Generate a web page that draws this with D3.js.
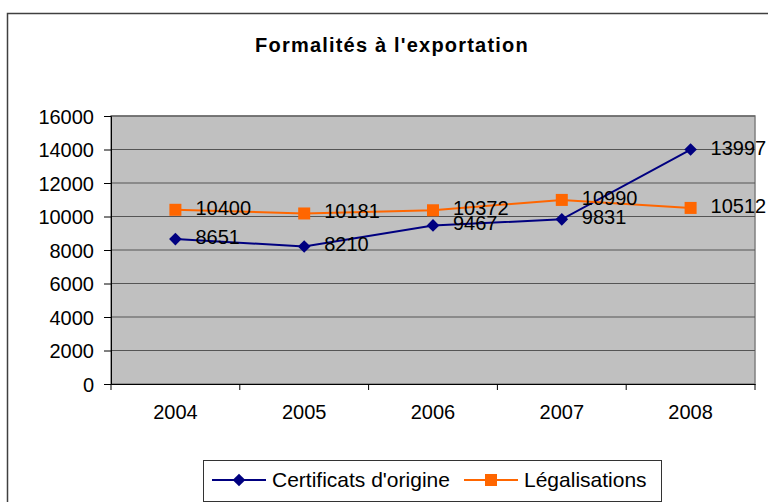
<!DOCTYPE html>
<html>
<head>
<meta charset="utf-8">
<script src="https://cdn.jsdelivr.net/npm/d3@7"></script>
<style>
  body { margin: 0; background: #fff; }
  text { font-family: "Liberation Sans", Arial, sans-serif; fill: #000; }
</style>
</head>
<body>
<script>
const width = 768
const height = 502

const years = ['2004', '2005', '2006', '2007', '2008']
const certificats = [8651, 8210, 9467, 9831, 13997]
const legalisations = [10400, 10181, 10372, 10990, 10512]
const yTicks = [0, 2000, 4000, 6000, 8000, 10000, 12000, 14000, 16000]

const series = [
    {name: "Certificats d'origine", values: certificats, color: '#000080', shape: 'diamond'},
    {name: 'Légalisations', values: legalisations, color: '#ff6600', shape: 'square'}
]

const plot = {left: 111, right: 755, top: 116, bottom: 384}

const svg = d3.select('body').append('svg')
    .attr('width', width)
    .attr('height', height)

// outer chart frame
svg.append('rect')
    .attr('x', 7.5).attr('y', 13.5)
    .attr('width', 780).attr('height', 520)
    .style('fill', '#fff')
    .style('stroke', '#404040')
    .style('stroke-width', 1.5)

svg.append('text')
    .attr('x', 392).attr('y', 52)
    .attr('text-anchor', 'middle')
    .style('font-size', '20px')
    .style('font-weight', 'bold')
    .style('letter-spacing', '1.2px')
    .text("Formalités à l'exportation")

const x = d3.scaleBand().domain(years).range([plot.left, plot.right])
const y = d3.scaleLinear().domain([0, 16000]).range([plot.bottom, plot.top])

svg.append('rect')
    .attr('x', plot.left).attr('y', plot.top)
    .attr('width', plot.right - plot.left).attr('height', plot.bottom - plot.top)
    .style('fill', '#c0c0c0')
    .style('stroke', '#808080')
    .style('stroke-width', 1.5)

svg.append('g').selectAll('line')
    .data(yTicks.slice(1))
    .join('line')
    .attr('x1', plot.left).attr('x2', plot.right)
    .attr('y1', d => y(d)).attr('y2', d => y(d))
    .style('stroke', '#555')
    .style('stroke-width', 1.2)

// y axis
const yAxis = svg.append('g')
    .attr('transform', `translate(${plot.left},0)`)
    .call(d3.axisLeft(y).tickValues(yTicks).tickSize(7).tickPadding(10).tickFormat(d3.format('d')))
yAxis.select('.domain').style('stroke', '#000')
yAxis.selectAll('.tick line').style('stroke', '#000')
yAxis.selectAll('text').style('font-size', '20px').attr('dy', '0.35em')

// x axis
const xAxis = svg.append('g')
    .attr('transform', `translate(0,${plot.bottom})`)
    .call(d3.axisBottom(x).tickSize(0).tickPadding(21))
xAxis.select('.domain').style('stroke', '#000')
xAxis.selectAll('text').style('font-size', '20px')
svg.append('g').selectAll('line')
    .data(d3.range(years.length + 1))
    .join('line')
    .attr('x1', i => plot.left + i * x.step()).attr('x2', i => plot.left + i * x.step())
    .attr('y1', plot.bottom).attr('y2', plot.bottom + 6)
    .style('stroke', '#000')

const cx = d => x(d) + x.bandwidth() / 2
const line = d3.line().x((d, i) => cx(years[i])).y(d => y(d))

function marker(sel, s) {
    if (s.shape === 'diamond') {
        sel.append('path')
            .attr('d', d3.symbol(d3.symbolSquare, 80)())
            .attr('transform', 'rotate(45)')
            .style('fill', s.color)
    } else {
        sel.append('rect')
            .attr('x', -6).attr('y', -6).attr('width', 12).attr('height', 12)
            .style('fill', s.color)
    }
}

series.forEach(s => {
    svg.append('path')
        .datum(s.values)
        .attr('d', line)
        .style('fill', 'none')
        .style('stroke', s.color)
        .style('stroke-width', 2)
    s.values.forEach((v, i) => {
        const g = svg.append('g').attr('transform', `translate(${cx(years[i])},${y(v)})`)
        marker(g, s)
    })
})

series.forEach(s => {
    svg.append('g').selectAll('text')
        .data(s.values)
        .join('text')
        .attr('x', (d, i) => cx(years[i]) + 20)
        .attr('y', d => y(d) - 2)
        .attr('dy', '0.35em')
        .style('font-size', '20px')
        .text(d => d)
})

// legend
const lg = svg.append('g')
lg.append('rect')
    .attr('x', 203.5).attr('y', 460.5)
    .attr('width', 458).attr('height', 41)
    .style('fill', '#fff')
    .style('stroke', '#333')
const legendX = [212, 464]
series.forEach((s, i) => {
    const g = lg.append('g').attr('transform', `translate(${legendX[i]},480)`)
    g.append('line').attr('x1', 0).attr('x2', 54)
        .style('stroke', s.color).style('stroke-width', 2)
    const m = g.append('g').attr('transform', 'translate(27,0)')
    marker(m, s)
    g.append('text').attr('x', 60).attr('dy', '0.35em')
        .style('font-size', '21px')
        .text(s.name)
})
</script>
</body>
</html>
